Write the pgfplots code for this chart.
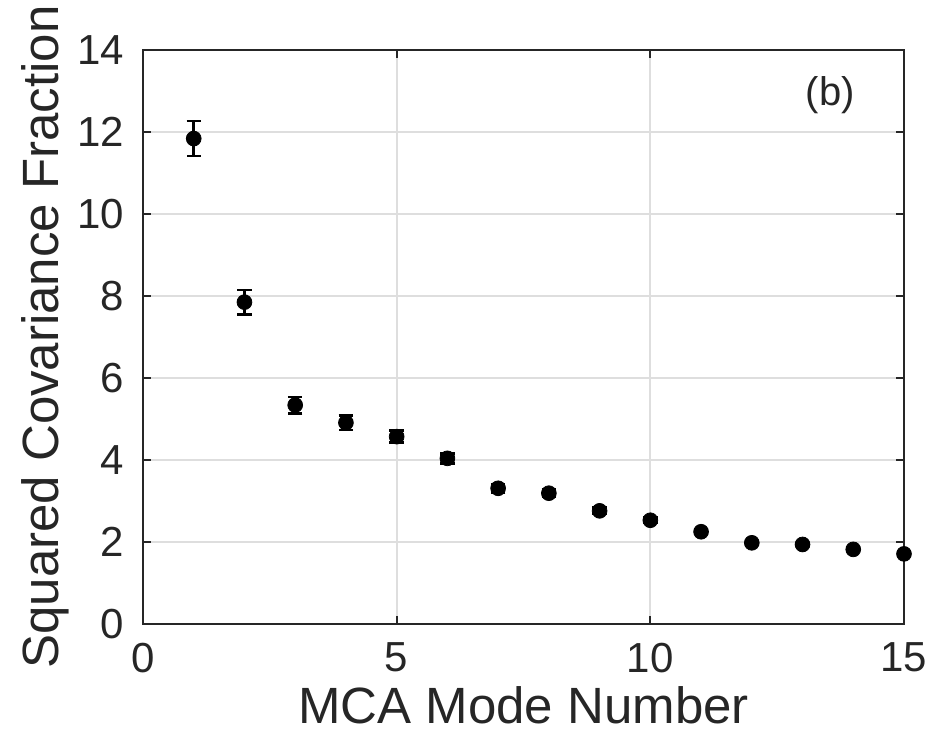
\documentclass[border=0pt]{standalone}
\usepackage{fontspec}
\setmainfont{Liberation Sans}
\usepackage{pgfplots}
\pgfplotsset{compat=1.18}

\begin{document}
\begin{tikzpicture}
\begin{axis}[
  name=ax,
  width=380.5pt, height=287pt,
  scale only axis,
  xmin=0, xmax=15, ymin=0, ymax=14,
  xtick={0,5,10,15},
  ytick={0,2,...,14},
  tick align=inside,
  major tick length=4pt,
  tick style={color=black!85, line width=1pt},
  axis line style={color=black!85, line width=1.4pt},
  grid=major,
  major grid style={color=black!13, line width=0.9pt},
  tick label style={font=\fontsize{21}{23}\selectfont, color=black!85},
  xticklabel style={yshift=-6pt},
  yticklabel style={xshift=-6pt},
  /pgf/number format/assume math mode=true,
  xlabel={MCA Mode Number},
  ylabel={Squared Covariance Fraction},
  label style={font=\fontsize{25.5}{27}\selectfont, color=black!85},
  xlabel style={yshift=0pt},
  ylabel style={yshift=-3pt},
  clip=false,
]
\addplot[
  only marks, mark=*, mark size=3.7pt, color=black,
  error bars/.cd, y dir=both, y explicit,
  error bar style={line width=1.3pt},
  error mark options={rotate=90, mark size=3.6pt, line width=1.3pt},
] table[x=x, y=y, y error=e] {
x  y     e
1  11.84 0.43
2  7.85  0.30
3  5.34  0.20
4  4.91  0.18
5  4.57  0.15
6  4.04  0.12
7  3.31  0.10
8  3.19  0.09
9  2.76  0.08
10 2.53  0.07
11 2.25  0.05
12 1.98  0.04
13 1.94  0.04
14 1.82  0.03
15 1.71  0.03
};
\node[font=\fontsize{20}{22}\selectfont, color=black!85] at (axis cs:13.55,12.9) {(b)};
\end{axis}
\pgfresetboundingbox
\useasboundingbox ([shift={(-71.5pt,-54.5pt)}]ax.south west) rectangle ([shift={(15pt,25pt)}]ax.north east);
\end{tikzpicture}
\end{document}
